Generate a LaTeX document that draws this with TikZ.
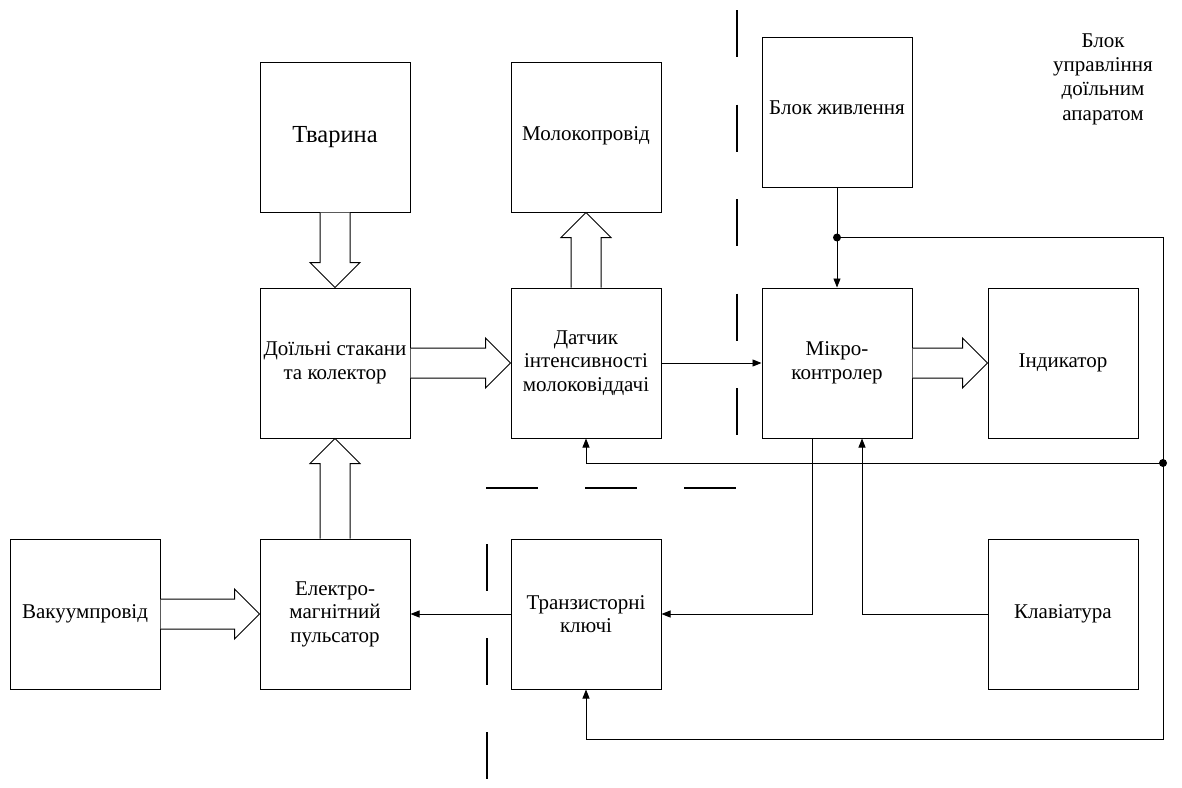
\documentclass[tikz,border=0pt]{standalone}
\usepackage{fontspec}
\setmainfont{Liberation Serif}
\usetikzlibrary{arrows.meta,calc}
\begin{document}
\begin{tikzpicture}[x=1pt,y=-1pt,
  box/.style={draw, line width=1pt, minimum width=150pt, minimum height=150pt, align=center, inner sep=0pt, font=\fontsize{21}{23.5}\selectfont},
  hollow/.style={draw, line width=1pt, fill=white, line join=miter},
  conn/.style={line width=0.9pt, -{Triangle[length=9pt,width=7pt]}},
  wire/.style={line width=0.9pt},
  sep/.style={line width=1.1pt}]
\useasboundingbox (0,0) rectangle (1182,787);

\node[box, font=\fontsize{24.5}{27}\selectfont] (tv) at (335,137) {Тварина};
\node[box] (mk) at (586,137) {\raisebox{6pt}{Молокопровід}};
\node[box] (bz) at (837,112) {\raisebox{8pt}{Блок живлення}};
\node[box] (ds) at (335,363) {Доїльні стакани\\та колектор};
\node[box] (dt) at (586,363) {Датчик\\інтенсивності\\молоковіддачі};
\node[box] (mc) at (837,363) {Мікро-\\контролер};
\node[box] (ind) at (1063,363) {Індикатор};
\node[box] (vak) at (85,614) {Вакуумпровід};
\node[box] (em) at (335,614) {Електро-\\магнітний\\пульсатор};
\node[box] (tk) at (586,614) {Транзисторні\\ключі};
\node[box] (kl) at (1063,614) {Клавіатура};
\node[align=center, inner sep=0pt, font=\fontsize{21}{24.3}\selectfont] (title) at (1103,79) {Блок\\управління\\доїльним\\апаратом};

% hollow arrows
\draw[hollow] let \p1=(tv.south), \p2=(ds.north) in
  (\x1-15pt,\y1) -- (\x1-15pt,\y2+25pt) -- (\x1-25pt,\y2+25pt) -- (\x2,\y2) -- (\x1+25pt,\y2+25pt) -- (\x1+15pt,\y2+25pt) -- (\x1+15pt,\y1);
\draw[hollow] let \p1=(em.north), \p2=(ds.south) in
  (\x1-15pt,\y1) -- (\x1-15pt,\y2-25pt) -- (\x1-25pt,\y2-25pt) -- (\x2,\y2) -- (\x1+25pt,\y2-25pt) -- (\x1+15pt,\y2-25pt) -- (\x1+15pt,\y1);
\draw[hollow] let \p1=(dt.north), \p2=(mk.south) in
  (\x1-15pt,\y1) -- (\x1-15pt,\y2-25pt) -- (\x1-25pt,\y2-25pt) -- (\x2,\y2) -- (\x1+25pt,\y2-25pt) -- (\x1+15pt,\y2-25pt) -- (\x1+15pt,\y1);
\draw[hollow] let \p1=(ds.east), \p2=(dt.west) in
  (\x1,\y1+15pt) -- (\x2-25pt,\y1+15pt) -- (\x2-25pt,\y1+25pt) -- (\x2,\y2) -- (\x2-25pt,\y1-25pt) -- (\x2-25pt,\y1-15pt) -- (\x1,\y1-15pt);
\draw[hollow] let \p1=(vak.east), \p2=(em.west) in
  (\x1,\y1+15pt) -- (\x2-25pt,\y1+15pt) -- (\x2-25pt,\y1+25pt) -- (\x2,\y2) -- (\x2-25pt,\y1-25pt) -- (\x2-25pt,\y1-15pt) -- (\x1,\y1-15pt);
\draw[hollow] let \p1=(mc.east), \p2=(ind.west) in
  (\x1,\y1+15pt) -- (\x2-25pt,\y1+15pt) -- (\x2-25pt,\y1+25pt) -- (\x2,\y2) -- (\x2-25pt,\y1-25pt) -- (\x2-25pt,\y1-15pt) -- (\x1,\y1-15pt);

% thin connectors
\coordinate (j1) at ($(bz.south)!0.5!(mc.north)$);
\coordinate (j2) at (1163,463);
\coordinate (rb) at (1163,739);
\draw[conn] (dt.east) -- (mc.west);
\draw[conn] (tk.west) -- (em.east);
\draw[conn] ([xshift=-25pt]mc.south) |- (tk.east);
\draw[conn] (kl.west) -| ([xshift=25pt]mc.south);
\draw[conn] (bz.south) -- (mc.north);
\draw[wire] (j1) -| (j2);
\draw[conn] (j2) -- (rb) -| (tk.south);
\draw[conn] (j2) -| (dt.south);
\fill (j1) circle (4pt);
\fill (j2) circle (4pt);

% separators
\draw[sep, dash pattern=on 47pt off 47.5pt] (737,10) -- (737,436);
\draw[sep, dash pattern=on 52pt off 47pt] (486,488) -- (737,488);
\draw[sep, dash pattern=on 47pt off 47pt] (487,544) -- (487,787);
\end{tikzpicture}
\end{document}
